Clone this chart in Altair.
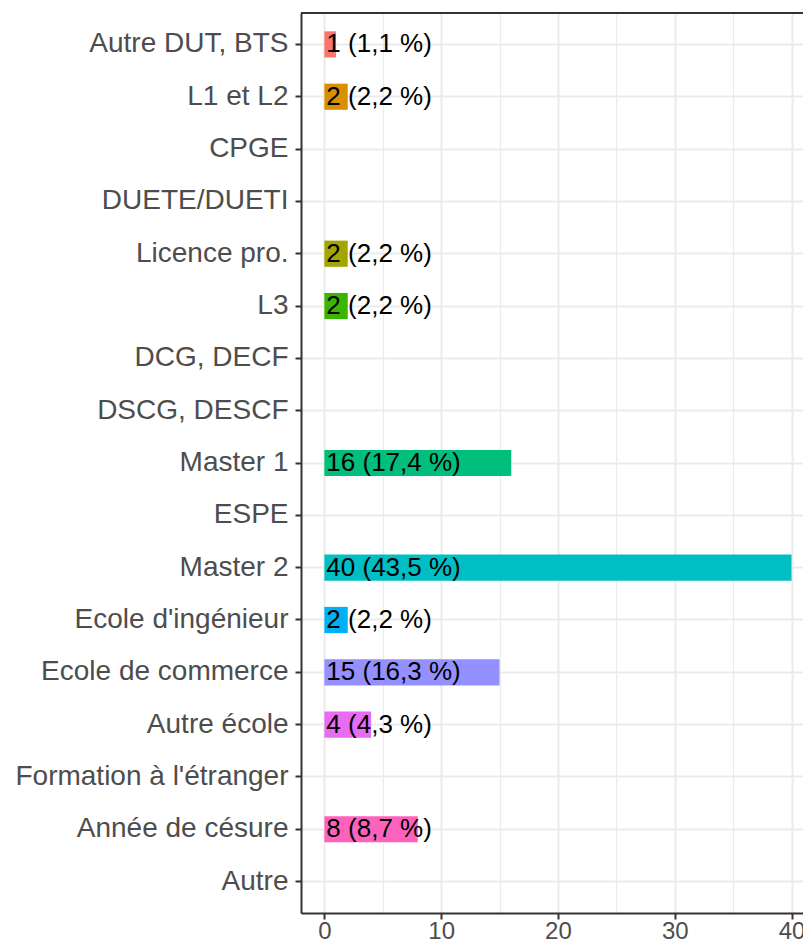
import altair as alt
import pandas as pd

categories = [
    "Autre DUT, BTS", "L1 et L2", "CPGE", "DUETE/DUETI", "Licence pro.", "L3",
    "DCG, DECF", "DSCG, DESCF", "Master 1", "ESPE", "Master 2",
    "Ecole d'ingénieur", "Ecole de commerce", "Autre école",
    "Formation à l'étranger", "Année de césure", "Autre",
]
counts = [1, 2, 0, 0, 2, 2, 0, 0, 16, 0, 40, 2, 15, 4, 0, 8, 0]
percents = ["1,1", "2,2", "", "", "2,2", "2,2", "", "", "17,4", "", "43,5",
            "2,2", "16,3", "4,3", "", "8,7", ""]
colors = ["#F8766D", "#D89000", "#FFFFFF", "#FFFFFF", "#A3A500", "#39B600",
          "#FFFFFF", "#FFFFFF", "#00BF7D", "#FFFFFF", "#00BFC4", "#00B0F6",
          "#9590FF", "#E76BF3", "#FFFFFF", "#FF62BC", "#FFFFFF"]

df = pd.DataFrame({"cat": categories, "n": counts, "pct": percents, "col": colors})
df["label"] = [f"{n} ({p} %)" if n > 0 else "" for n, p in zip(counts, percents)]
nz = df[df["n"] > 0]

W = 502
H = 900

x_scale = alt.Scale(domain=[-2.0, 40.98], nice=False, zero=False)
y_scale = alt.Scale(domain=categories, paddingInner=0, paddingOuter=0.1)

x_axis = alt.Axis(
    title=None,
    values=[0, 5, 10, 15, 20, 25, 30, 35, 40],
    labelExpr="datum.value % 10 === 0 ? datum.label : ''",
    labelFontSize=24, labelColor="#4D4D4D", labelFont="Liberation Sans",
    labelPadding=0,
    tickSize=6, tickWidth=2, tickColor="#333333",
    tickOpacity={"condition": {"test": "datum.value % 10 === 0", "value": 1}, "value": 0},
    grid=True, gridColor="#EBEBEB",
    gridWidth={"condition": {"test": "datum.value % 10 === 0", "value": 2}, "value": 1.2},
    domainColor="#333333", domainWidth=2,
)
y_axis = alt.Axis(
    title=None,
    labelFontSize=28, labelColor="#4D4D4D", labelFont="Liberation Sans",
    labelPadding=7, labelLimit=400,
    tickSize=6, tickWidth=2, tickColor="#333333",
    grid=True, gridColor="#EBEBEB", gridWidth=2, bandPosition=0.5,
    domainColor="#333333", domainWidth=2,
)

bars = alt.Chart(nz).mark_bar(height={"band": 0.5}).encode(
    x=alt.X("n:Q", scale=x_scale, axis=x_axis),
    y=alt.Y("cat:N", scale=y_scale, axis=y_axis, sort=categories),
    color=alt.Color("col:N", scale=None),
)

texts = alt.Chart(nz).mark_text(
    align="left", baseline="middle", dx=2, fontSize=26,
    font="Liberation Sans", color="black",
).encode(
    x=alt.datum(0, scale=x_scale),
    y=alt.Y("cat:N", scale=y_scale, sort=categories),
    text="label:N",
)

top = alt.Chart(nz).mark_rule(color="#333333", strokeWidth=2).encode(
    y=alt.value(0), x=alt.value(0), x2=alt.value(W)
)

chart = alt.layer(bars, texts, top).properties(
    width=W, height=H,
    padding={"left": 293, "top": 5, "right": 0, "bottom": 27},
    autosize=alt.AutoSizeParams(type="none"),
).configure_view(stroke=None)

chart.save("out.html", embed_options={"renderer": "svg", "actions": False})
